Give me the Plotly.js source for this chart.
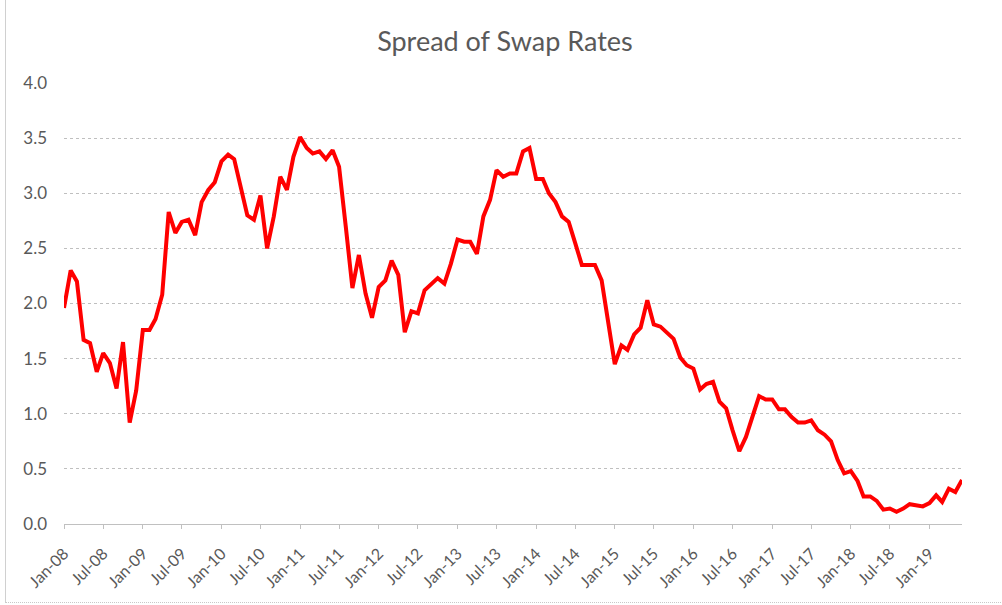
<!DOCTYPE html>
<html>
<head>
<meta charset="utf-8">
<script src="https://cdn.plot.ly/plotly-3.0.1.min.js"></script>
<style>
  html, body { margin: 0; padding: 0; background: #ffffff; }
  #frame { position: absolute; left: 5px; top: 0; width: 997px; height: 602px;
           border-left: 1px solid #d0d0d0; border-bottom: 1px dotted #c8c8c8; }
  #chart { position: absolute; left: 0; top: 0; width: 1002px; height: 605px; }
</style>
</head>
<body>
<div id="frame"></div>
<div id="chart"></div>
<script>
// Monthly spread values, Jan-2008 .. Jun-2019
const startYear = 2008;
const spread2008 = [1.96, 2.30, 2.20, 1.67, 1.64, 1.38, 1.55, 1.46, 1.23, 1.65, 0.92, 1.21];
const spread2009 = [1.76, 1.76, 1.86, 2.08, 2.83, 2.64, 2.74, 2.76, 2.62, 2.92, 3.03, 3.10];
const spread2010 = [3.29, 3.35, 3.31, 3.06, 2.80, 2.76, 2.98, 2.50, 2.79, 3.15, 3.03, 3.33];
const spread2011 = [3.51, 3.41, 3.36, 3.38, 3.31, 3.39, 3.24, 2.70, 2.14, 2.44, 2.09, 1.87];
const spread2012 = [2.15, 2.21, 2.39, 2.26, 1.74, 1.93, 1.91, 2.12, 2.18, 2.23, 2.18, 2.36];
const spread2013 = [2.58, 2.56, 2.56, 2.45, 2.79, 2.94, 3.21, 3.15, 3.18, 3.18, 3.38, 3.41];
const spread2014 = [3.13, 3.13, 3.00, 2.92, 2.79, 2.74, 2.55, 2.35, 2.35, 2.35, 2.21, 1.82];
const spread2015 = [1.45, 1.62, 1.58, 1.72, 1.78, 2.03, 1.81, 1.79, 1.74, 1.68, 1.51, 1.44];
const spread2016 = [1.41, 1.22, 1.27, 1.29, 1.11, 1.05, 0.85, 0.66, 0.79, 0.96, 1.16, 1.13];
const spread2017 = [1.13, 1.04, 1.04, 0.97, 0.92, 0.92, 0.94, 0.85, 0.81, 0.75, 0.58, 0.46];
const spread2018 = [0.48, 0.39, 0.25, 0.25, 0.21, 0.13, 0.14, 0.11, 0.14, 0.18, 0.17, 0.16];
const spread2019 = [0.19, 0.26, 0.20, 0.32, 0.29, 0.40];

const yearly = [spread2008, spread2009, spread2010, spread2011, spread2012, spread2013,
                spread2014, spread2015, spread2016, spread2017, spread2018, spread2019];

const dates = [];
const values = [];
yearly.forEach((arr, yi) => {
  arr.forEach((v, mi) => {
    const y = startYear + yi;
    const m = String(mi + 1).padStart(2, '0');
    dates.push(y + '-' + m + '-01');
    values.push(v);
  });
});

const yTicks = [0, 0.5, 1, 1.5, 2, 2.5, 3, 3.5, 4];

const trace = {
  x: dates,
  y: values,
  type: 'scatter',
  mode: 'lines',
  line: { color: '#ff0000', width: 4 },
  hoverinfo: 'x+y'
};

const font = "Lato, 'Open Sans', sans-serif";

const layout = {
  width: 1002,
  height: 605,
  paper_bgcolor: 'rgba(0,0,0,0)',
  plot_bgcolor: 'rgba(0,0,0,0)',
  margin: { l: 64, r: 40, t: 83, b: 81 },
  showlegend: false,
  title: {
    text: 'Spread of Swap Rates',
    font: { family: font, size: 27, color: '#595959' },
    x: 0.491, xanchor: 'center', xref: 'paper',
    y: 41, yref: 'container', yanchor: 'middle'
  },
  xaxis: {
    type: 'date',
    range: [dates[0], dates[dates.length - 1]],
    tickformat: '%b-%y',
    dtick: 'M6',
    tick0: '2008-01-01',
    tickangle: -45,
    tickfont: { family: font, size: 16, color: '#595959' },
    showgrid: false,
    showline: true,
    linecolor: '#c0c0c0',
    linewidth: 1,
    ticks: 'outside',
    ticklen: 4,
    tickcolor: '#c0c0c0',
    ticklabelstandoff: 9,
    zeroline: false,
    fixedrange: true
  },
  yaxis: {
    range: [0, 4],
    tickvals: yTicks,
    tickformat: '.1f',
    tickfont: { family: font, size: 17, color: '#595959' },
    showgrid: true,
    gridcolor: '#bfbfbf',
    griddash: 'dot',
    gridwidth: 1,
    showline: false,
    zeroline: false,
    ticks: '',
    ticklabelstandoff: 16,
    fixedrange: true
  }
};

Plotly.newPlot('chart', [trace], layout, { displayModeBar: false, staticPlot: true });
</script>
</body>
</html>
